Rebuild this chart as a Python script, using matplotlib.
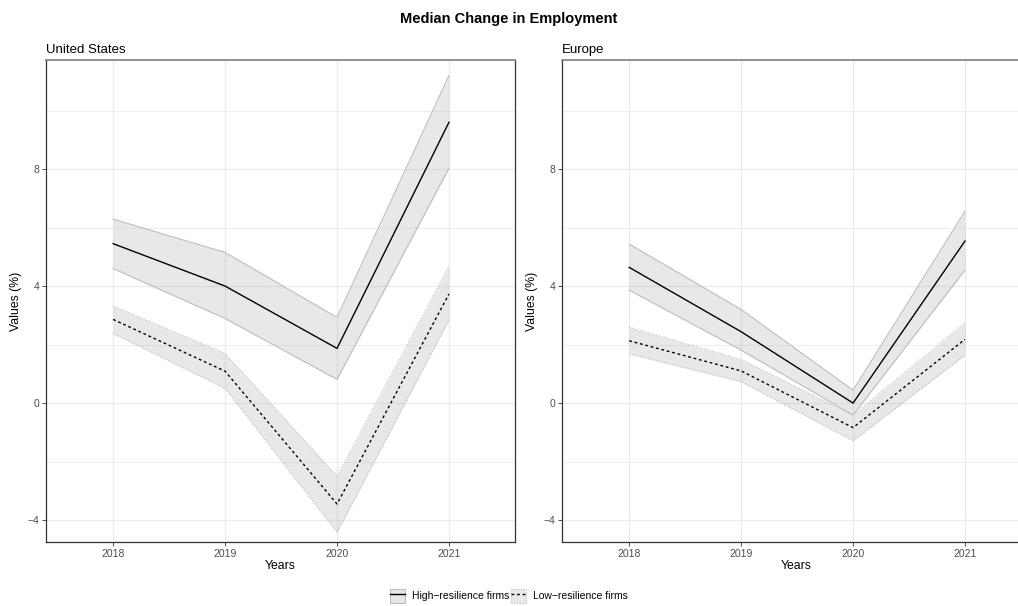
import matplotlib.pyplot as plt
from matplotlib.patches import Patch
from matplotlib.lines import Line2D
from matplotlib.legend_handler import HandlerTuple

plt.rcParams["font.family"] = ["Liberation Sans", "DejaVu Sans"]

years = [2018, 2019, 2020, 2021]

# United States
us_high = [5.45, 4.0, 1.87, 9.6]
us_high_lo = [4.60, 2.89, 0.81, 8.03]
us_high_hi = [6.29, 5.15, 2.93, 11.2]
us_low = [2.86, 1.09, -3.45, 3.73]
us_low_lo = [2.38, 0.50, -4.42, 2.84]
us_low_hi = [3.32, 1.70, -2.50, 4.68]

# Europe
eu_high = [4.64, 2.44, 0.0, 5.54]
eu_high_lo = [3.86, 1.81, -0.41, 4.55]
eu_high_hi = [5.44, 3.20, 0.44, 6.56]
eu_low = [2.13, 1.10, -0.84, 2.18]
eu_low_lo = [1.68, 0.73, -1.29, 1.64]
eu_low_hi = [2.59, 1.49, -0.41, 2.75]

band_fill = "#b3b3b3"
band_edge = "#bdbdbd"

fig = plt.figure(figsize=(10.18, 6.06), dpi=100)
ax_us = fig.add_axes([0.0452, 0.1056, 0.4607, 0.7954])
ax_eu = fig.add_axes([0.5521, 0.1056, 0.4607, 0.7954])


def draw_panel(ax, title, hi, hi_lo, hi_hi, lo, lo_lo, lo_hi):
    ax.fill_between(years, hi_lo, hi_hi, color=band_fill, alpha=0.3, lw=0)
    ax.plot(years, hi_lo, color=band_edge, lw=0.8)
    ax.plot(years, hi_hi, color=band_edge, lw=0.8)
    ax.fill_between(years, lo_lo, lo_hi, color=band_fill, alpha=0.3, lw=0)
    ax.plot(years, lo_lo, color=band_edge, lw=0.8, ls=(0, (1, 1.5)))
    ax.plot(years, lo_hi, color=band_edge, lw=0.8, ls=(0, (1, 1.5)))
    ax.plot(years, hi, color="black", lw=1.0)
    ax.plot(years, lo, color="black", lw=1.0, ls=(0, (2, 2)))

    ax.set_xlim(2017.4, 2021.59)
    ax.set_ylim(-4.75, 11.73)
    ax.set_xticks(years)
    ax.set_xticklabels([str(y) for y in years])
    ax.set_yticks([-4, 0, 4, 8])
    ax.set_yticklabels(["\u22124", "0", "4", "8"])
    ax.set_yticks([-2, 2, 6, 10], minor=True)
    ax.grid(True, which="major", color="#ebebeb", lw=0.9)
    ax.grid(True, which="minor", axis="y", color="#ebebeb", lw=0.6)
    ax.set_axisbelow(True)
    ax.tick_params(axis="both", which="major", labelsize=7.5, labelcolor="#4d4d4d",
                   color="#333333", length=3, width=0.6, pad=2)
    ax.tick_params(axis="y", which="minor", length=0)
    for side in ["left", "bottom", "right"]:
        ax.spines[side].set_color("#333333")
        ax.spines[side].set_linewidth(0.9)
    ax.spines["top"].set_color("#7f7f7f")
    ax.spines["top"].set_linewidth(1.2)
    ax.set_xlabel("Years", fontsize=8.8, labelpad=1)
    ax.set_ylabel("Values (%)", fontsize=8.8, labelpad=4)
    ax.set_title(title, loc="left", fontsize=9.5, pad=5)


draw_panel(ax_us, "United States", us_high, us_high_lo, us_high_hi,
           us_low, us_low_lo, us_low_hi)
draw_panel(ax_eu, "Europe", eu_high, eu_high_lo, eu_high_hi,
           eu_low, eu_low_lo, eu_low_hi)

fig.text(0.5, 0.968, "Median Change in Employment", ha="center", va="center",
         fontsize=10.5, fontweight="bold")

h_high = (Patch(facecolor="#e8e8e8", edgecolor=band_edge, lw=0.8),
          Line2D([], [], color="black", lw=1.0))
h_low = (Patch(facecolor="#e8e8e8", edgecolor=band_edge, lw=0.8, ls=(0, (1, 1.5))),
         Line2D([], [], color="black", lw=1.0, ls=(0, (2, 2))))
fig.legend([h_high, h_low], ["High\u2212resilience firms", "Low\u2212resilience firms"],
           handler_map={tuple: HandlerTuple(ndivide=1, pad=0)},
           loc="center", bbox_to_anchor=(0.5, 0.017), ncol=2, frameon=False,
           fontsize=7.5, handlelength=1.4, handleheight=1.7, handletextpad=0.7,
           columnspacing=0.2, borderpad=0)

fig.savefig("out.png", dpi=100)
